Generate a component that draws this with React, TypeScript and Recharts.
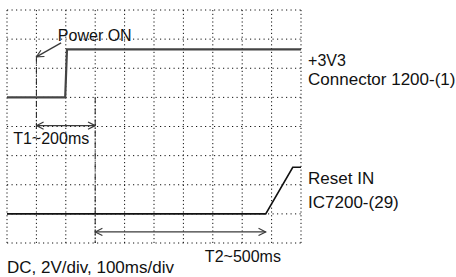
import {
  LineChart, Line, XAxis, YAxis, CartesianGrid, ReferenceLine, ReferenceDot,
} from "recharts";

// ─── Scope screen: 10 div across (100ms/div), 8 div high (2V/div) ─────────────

const timeTicks = [0, 1, 2, 3, 4, 5, 6, 7, 8, 9, 10];
const levelTicks = [0, 1, 2, 3, 4, 5, 6, 7, 8];

// +3V3 on connector 1200-(1)
const supplyTime = [0, 1.98, 2.04, 10];
const supplyLevel = [5, 5, 6.65, 6.65];

// Reset IN on IC7200-(29)
const resetTime = [0, 8.8, 9.72, 10];
const resetLevel = [1, 1, 2.6, 2.6];

// dashed timing markers (time, from level, to level)
const markerTime = [1, 3];
const markerFrom = [6.39, 5];
const markerTo = [3.88, 0];

// arrows: [t0, v0] -> [t1, v1], with heads
const arrowStart = [[1, 4.03], [3, 0.38], [1.84, 6.87]];
const arrowEnd = [[3, 4.03], [8.8, 0.38], [1.0, 6.39]];
const arrowBoth = [true, true, false];

// texts, anchored at their baseline start
const noteText = [
  "Power ON", "+3V3", "Connector 1200-(1)", "Reset IN", "IC7200-(29)",
  "T1~200ms", "T2~500ms", "DC, 2V/div, 100ms/div",
];
const noteTime = [1.73, 10.24, 10.24, 10.24, 10.24, 0.21, 6.73, 0];
const noteLevel = [6.95, 6.08, 5.43, 2.02, 1.21, 3.39, -0.64, -1.02];

const toPoints = (ts: number[], vs: number[]) => ts.map((t, i) => ({ t, v: vs[i] }));
const supplyData = toPoints(supplyTime, supplyLevel);
const resetData = toPoints(resetTime, resetLevel);

// ─── Styles ───────────────────────────────────────────────────────────────────

const font = '"Liberation Sans", Arial, sans-serif';
const arrowColor = "#3a3a3a";
const bigNotes = new Set(["Connector 1200-(1)", "Reset IN", "IC7200-(29)", "DC, 2V/div, 100ms/div"]);
const noTick = () => <g />;

export default function App() {
  return (
    <div style={{ position: "absolute", left: 0, top: 0, width: 456, height: 277, background: "#fff" }}>
      <svg width={0} height={0} style={{ position: "absolute" }}>
        <defs>
          <marker id="head" viewBox="0 0 10 10" refX="9" refY="5" markerWidth="9" markerHeight="9"
            markerUnits="userSpaceOnUse" orient="auto-start-reverse">
            <path d="M1,1 L9,5 L1,9" fill="none" stroke={arrowColor} strokeWidth={1.3} />
          </marker>
        </defs>
      </svg>
      <LineChart width={456} height={277} margin={{ top: 10, right: 155, bottom: 34, left: 7 }}>
        <XAxis type="number" dataKey="t" domain={[0, 10]} ticks={timeTicks} interval={0} height={0}
          axisLine={false} tickLine={false} tick={noTick} />
        <YAxis type="number" dataKey="v" domain={[0, 8]} ticks={levelTicks} interval={0} width={0}
          axisLine={false} tickLine={false} tick={noTick} />
        <CartesianGrid vertical={false} stroke="#111" strokeDasharray="1.2 3.3" />
        <CartesianGrid horizontal={false} stroke="#111" strokeDasharray="1.2 2.6" />

        {markerTime.map((t, i) => (
          <ReferenceLine
            key={`m${i}`}
            segment={[{ x: t, y: markerFrom[i] }, { x: t, y: markerTo[i] }]}
            stroke="#222"
            strokeDasharray="6 2 1 2"
          />
        ))}

        <Line data={supplyData} dataKey="v" type="linear" stroke="#444" strokeWidth={2.2}
          dot={false} isAnimationActive={false} />
        <Line data={resetData} dataKey="v" type="linear" stroke="#111" strokeWidth={1.6}
          dot={false} isAnimationActive={false} />

        {arrowStart.map((s, i) => (
          <ReferenceLine
            key={`a${i}`}
            segment={[{ x: s[0], y: s[1] }, { x: arrowEnd[i][0], y: arrowEnd[i][1] }]}
            stroke={arrowColor}
            strokeWidth={1.3}
            markerStart={arrowBoth[i] ? "url(#head)" : undefined}
            markerEnd="url(#head)"
            ifOverflow="visible"
          />
        ))}

        {noteText.map((txt, i) => (
          <ReferenceDot
            key={txt}
            x={noteTime[i]}
            y={noteLevel[i]}
            r={0}
            ifOverflow="visible"
            shape={(p: any) => (
              <text x={p.cx} y={p.cy} fill="#111" fontFamily={font}
                fontSize={bigNotes.has(txt) ? 17 : 16}>{txt}</text>
            )}
          />
        ))}
      </LineChart>
    </div>
  );
}
